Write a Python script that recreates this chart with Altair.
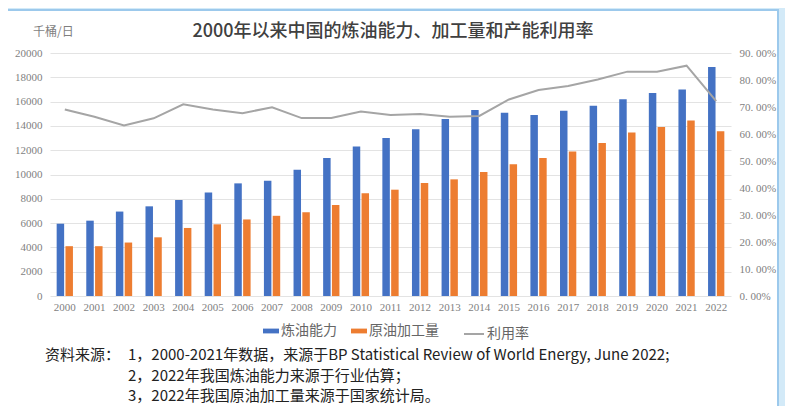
import altair as alt
import pandas as pd

years = ["2000", "2001", "2002", "2003", "2004", "2005", "2006", "2007", "2008", "2009", "2010",
         "2011", "2012", "2013", "2014", "2015", "2016", "2017", "2018", "2019", "2020", "2021", "2022"]
capacity = [5950, 6200, 6950, 7380, 7900, 8520, 9270, 9490, 10400, 11360, 12300, 13000,
            13720, 14570, 15300, 15090, 14900, 15250, 15650, 16200, 16700, 17000, 18850]
throughput = [4100, 4100, 4400, 4830, 5600, 5900, 6300, 6600, 6900, 7500, 8450, 8750,
              9300, 9600, 10200, 10850, 11350, 11900, 12600, 13450, 13900, 14450, 13550]
utilization = [69.1, 66.4, 63.2, 65.8, 71.0, 69.1, 67.7, 69.9, 65.9, 65.9, 68.3, 67.0,
               67.4, 66.4, 66.7, 72.8, 76.3, 77.8, 80.2, 83.1, 83.1, 85.3, 72.2]

series_names = ["炼油能力", "原油加工量"]
line_name = "利用率"
left_ticks = [0, 2000, 4000, 6000, 8000, 10000, 12000, 14000, 16000, 18000, 20000]
right_ticks = [0, 10, 20, 30, 40, 50, 60, 70, 80, 90]

title_text = "2000年以来中国的炼油能力、加工量和产能利用率"
unit_text = "千桶/日"
note_prefix = "资料来源："
note_lines = [
    "1，2000-2021年数据，来源于BP Statistical Review of World Energy, June 2022;",
    "2，2022年我国炼油能力来源于行业估算；",
    "3，2022年我国原油加工量来源于国家统计局。",
]

BLUE = "#4472C4"
ORANGE = "#ED7D31"
GRAY = "#A5A5A5"
LIGHT_BLUE = "#d3eaf8"
BORDER = "#9cc9ec"
CJK = "Noto Sans CJK SC"
SERIF = "Liberation Serif"

bars_df = pd.DataFrame({
    "year": years * 2,
    "series": [series_names[0]] * len(years) + [series_names[1]] * len(years),
    "value": capacity + throughput,
})
line_df = pd.DataFrame({"year": years, "rate": utilization, "name": [line_name] * len(years)})
one = pd.DataFrame({"a": [0]})

x_enc = alt.X("year:N", sort=years,
              scale=alt.Scale(paddingInner=0.45, paddingOuter=0.225),
              axis=alt.Axis(title=None, labelAngle=0, ticks=False, domain=False,
                            labelFont=SERIF, labelFontSize=11, labelColor="#7f7f7f",
                            labelPadding=5))

bars = alt.Chart(bars_df).mark_bar().encode(
    x=x_enc,
    xOffset=alt.XOffset("series:N", sort=series_names, scale=alt.Scale(paddingInner=0.15)),
    y=alt.Y("value:Q", scale=alt.Scale(domain=[0, 20000], nice=False),
            axis=alt.Axis(title=None, values=left_ticks, format="d", ticks=False, domain=False,
                          gridColor="#e3e3e3", labelFont=SERIF, labelFontSize=11,
                          labelColor="#7f7f7f", labelPadding=8)),
    fill=alt.Fill("series:N", sort=series_names,
                  scale=alt.Scale(domain=series_names, range=[BLUE, ORANGE]),
                  legend=alt.Legend(title=None, orient="none", legendX=213, legendY=270,
                                    direction="horizontal", symbolType="M-1,-0.3H1V0.3H-1Z",
                                    symbolSize=256, symbolStrokeWidth=0, labelOffset=2,
                                    columnPadding=14, labelFont=CJK, labelFontSize=14,
                                    labelColor="#666666")),
)

line = alt.Chart(line_df).mark_line(strokeWidth=2).encode(
    x=alt.X("year:N", sort=years),
    y=alt.Y("rate:Q", scale=alt.Scale(domain=[0, 90], nice=False),
            axis=alt.Axis(title=None, orient="right", values=right_ticks, grid=False,
                          ticks=False, domain=False, labelFont=SERIF, labelFontSize=11,
                          labelColor="#7f7f7f", labelPadding=8,
                          labelExpr="replace(format(datum.value, '.2f'), '.', '. ') + '%'")),
    stroke=alt.Stroke("name:N", scale=alt.Scale(domain=[line_name], range=[GRAY]),
                      legend=alt.Legend(title=None, orient="none", legendX=413, legendY=270,
                                        symbolType="stroke", symbolSize=400,
                                        symbolStrokeWidth=2, labelOffset=2,
                                        labelFont=CJK, labelFontSize=14,
                                        labelColor="#666666")),
)

# frame decorations
right_strip = alt.Chart(one).mark_rect(fill=LIGHT_BLUE).encode(
    x=alt.value(728), x2=alt.value(760), y=alt.value(-60), y2=alt.value(400))
top_strip = alt.Chart(one).mark_rect(fill=LIGHT_BLUE).encode(
    x=alt.value(-60), x2=alt.value(760), y=alt.value(-60), y2=alt.value(-43))
frame = alt.Chart(one).mark_rect(fill="transparent", stroke=BORDER, strokeWidth=2).encode(
    x=alt.value(-44), x2=alt.value(728), y=alt.value(-43), y2=alt.value(357))

title = alt.Chart(pd.DataFrame({"t": [title_text]})).mark_text(
    font=CJK, fontSize=18, fontWeight=500, color="#404040", align="center", baseline="middle"
).encode(text="t:N", x=alt.value(343), y=alt.value(-21))

unit = alt.Chart(pd.DataFrame({"t": [unit_text]})).mark_text(
    font=CJK, fontSize=12, color="#7f7f7f", align="left", baseline="middle"
).encode(text="t:N", x=alt.value(-17), y=alt.value(-21))

note_font = CJK
prefix = alt.Chart(pd.DataFrame({"t": [note_prefix]})).mark_text(
    font=note_font, fontSize=15, color="#222222", align="left", baseline="middle"
).encode(text="t:N", x=alt.value(-5), y=alt.value(302))

note_layers = []
for txt, yy in zip(note_lines, [302, 323, 343]):
    note_layers.append(alt.Chart(pd.DataFrame({"t": [txt]})).mark_text(
        font=note_font, fontSize=15, color="#222222", align="left", baseline="middle"
    ).encode(text="t:N", x=alt.value(78), y=alt.value(yy)))

chart = alt.layer(
    right_strip, top_strip, frame, bars, line, title, unit, prefix, *note_layers
).resolve_scale(y="independent", fill="independent", stroke="independent").properties(
    width=681, height=243,
    autosize=alt.AutoSizeParams(type="none"),
    padding={"left": 42, "top": 45, "right": 54, "bottom": 110},
    background="white",
).configure_view(strokeWidth=0)

chart.save("out.html", embed_options={"renderer": "svg", "actions": False})
